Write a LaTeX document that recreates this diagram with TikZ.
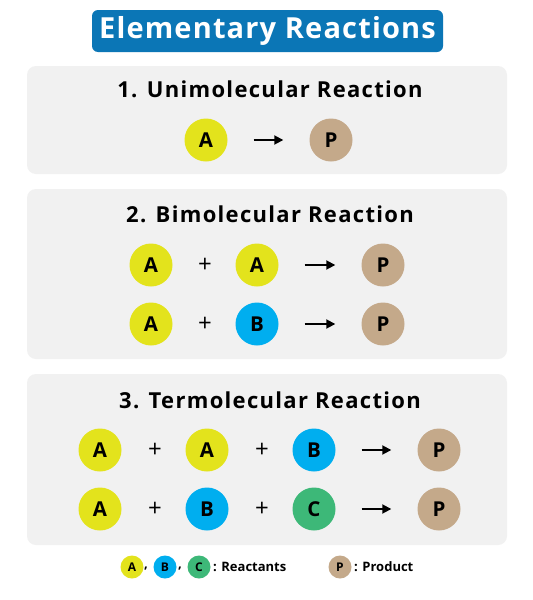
\documentclass[tikz,border=0pt]{standalone}
\usepackage{fontspec}
\setmainfont{Open Sans}
\usetikzlibrary{arrows.meta}
\definecolor{titleblue}{HTML}{0B76B6}
\definecolor{panelgray}{HTML}{F1F1F1}
\definecolor{molA}{HTML}{E3E31C}
\definecolor{molB}{HTML}{00AEEF}
\definecolor{molC}{HTML}{3DB878}
\definecolor{molP}{HTML}{C4A98A}
\begin{document}
\begin{tikzpicture}[x=1pt,y=-1pt,
  panel/.style={fill=panelgray, rounded corners=9pt},
  heading/.style={font=\fontsize{22}{22}\selectfont\bfseries\addfontfeatures{LetterSpace=6}, text=black},
  mol/.style={circle, minimum size=43pt, inner sep=0pt, font=\fontsize{20.5}{20.5}\selectfont\bfseries},
  smallmol/.style={circle, minimum size=23pt, inner sep=0pt, font=\fontsize{12}{12}\selectfont\bfseries},
  plussign/.style={font=\fontsize{24}{24}\selectfont, inner sep=0pt},
  legendtext/.style={font=\fontsize{13}{13}\selectfont\bfseries, inner sep=0pt, anchor=west},
  rarrow/.style={line width=1.8pt, -{Triangle[length=9pt,width=9pt]}, shorten <=26pt, shorten >=26pt}
]
\useasboundingbox (0,0) rectangle (533,600);
\fill[white] (0,0) rectangle (533,600);

% title
\node[fill=titleblue, rounded corners=6pt, minimum width=351pt, minimum height=42pt, inner sep=0pt,
      text=white, font=\fontsize{29}{29}\selectfont\bfseries\addfontfeatures{LetterSpace=4}] (title) at (267.5,31) {Elementary Reactions};

% panels
\fill[panel] (27,66) rectangle (507,174);
\fill[panel] (27,189) rectangle (507,359);
\fill[panel] (27,374) rectangle (507,545);

% panel 1
\node[heading] (h1) at (270,89) {1. Unimolecular Reaction};
\node[mol, fill=molA] (u1) at (206,140) {A};
\node[mol, fill=molP] (up) at (331,140) {P};
\draw[rarrow] (u1) -- (up);

% panel 2
\node[heading] (h2) at (270,214) {2. Bimolecular Reaction};
\node[mol, fill=molA] (b11) at (151,265) {A};
\node[plussign] (bp1) at (205,265) {+};
\node[mol, fill=molA] (b12) at (257,265) {A};
\node[mol, fill=molP] (b1p) at (383,265) {P};
\draw[rarrow] (b12) -- (b1p);
\node[mol, fill=molA] (b21) at (151,324) {A};
\node[plussign] (bp2) at (205,324) {+};
\node[mol, fill=molB] (b22) at (257,324) {B};
\node[mol, fill=molP] (b2p) at (383,324) {P};
\draw[rarrow] (b22) -- (b2p);

% panel 3
\node[heading] (h3) at (270,400) {3. Termolecular Reaction};
\node[mol, fill=molA] (t11) at (100,450) {A};
\node[plussign] (tp11) at (155,450) {+};
\node[mol, fill=molA] (t12) at (207,450) {A};
\node[plussign] (tp12) at (262,450) {+};
\node[mol, fill=molB] (t13) at (314,450) {B};
\node[mol, fill=molP] (t1p) at (439,450) {P};
\draw[rarrow] (t13) -- (t1p);
\node[mol, fill=molA] (t21) at (100,509) {A};
\node[plussign] (tp21) at (155,509) {+};
\node[mol, fill=molB] (t22) at (207,509) {B};
\node[plussign] (tp22) at (262,509) {+};
\node[mol, fill=molC] (t23) at (314,509) {C};
\node[mol, fill=molP] (t2p) at (439,509) {P};
\draw[rarrow] (t23) -- (t2p);

% legend
\node[smallmol, fill=molA] (la) at (132,567) {A};
\node[legendtext] (lc1) at (144,569) {,};
\node[smallmol, fill=molB] (lb) at (165,567) {B};
\node[legendtext] (lc2) at (178,569) {,};
\node[smallmol, fill=molC] (lcc) at (199,567) {C};
\node[legendtext] (lr) at (213,567) {: Reactants};
\node[smallmol, fill=molP] (lp) at (340,567) {P};
\node[legendtext] (lpt) at (354,567) {: Product};
\end{tikzpicture}
\end{document}
